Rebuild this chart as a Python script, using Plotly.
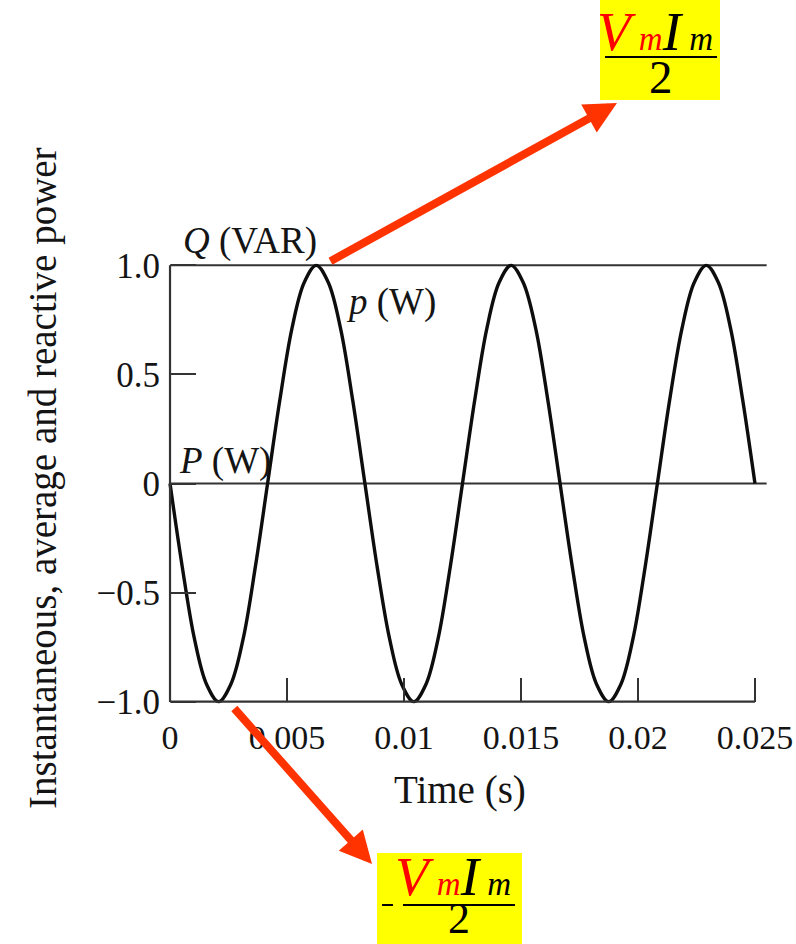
import plotly.graph_objects as go

# ---- data ----
time_s = [0, 0.00052, 0.00104, 0.00156, 0.00208, 0.0026, 0.00313, 0.00365,
          0.00417, 0.00469, 0.00521, 0.00573, 0.00625, 0.00677, 0.00729, 0.00781,
          0.00833, 0.00885, 0.00938, 0.0099, 0.01042, 0.01094, 0.01146, 0.01198,
          0.0125, 0.01302, 0.01354, 0.01406, 0.01458, 0.0151, 0.01563, 0.01615,
          0.01667, 0.01719, 0.01771, 0.01823, 0.01875, 0.01927, 0.01979, 0.02031,
          0.02083, 0.02135, 0.02188, 0.0224, 0.02292, 0.02344, 0.02396, 0.02448,
          0.025]
p_inst = [0, -0.38, -0.71, -0.92, -1.0, -0.92, -0.71, -0.38,
          0, 0.38, 0.71, 0.92, 1.0, 0.92, 0.71, 0.38,
          0, -0.38, -0.71, -0.92, -1.0, -0.92, -0.71, -0.38,
          0, 0.38, 0.71, 0.92, 1.0, 0.92, 0.71, 0.38,
          0, -0.38, -0.71, -0.92, -1.0, -0.92, -0.71, -0.38,
          0, 0.38, 0.71, 0.92, 1.0, 0.92, 0.71, 0.38,
          0]
line_t = [0, 0.0255]
Q_var = [1.0, 1.0]
P_avg = [0.0, 0.0]

x_ticks = [0, 0.005, 0.01, 0.015, 0.02, 0.025]
x_tick_labels = ["0", "0.005", "0.01", "0.015", "0.02", "0.025"]
y_ticks = [1.0, 0.5, 0, -0.5, -1.0]
y_tick_labels = ["1.0", "0.5", "0", "\u22120.5", "\u22121.0"]

# ---- figure geometry ----
W, H = 796, 944
ML, MR, MT, MB = 163, 27, 261, 238
XR = [-0.0003, 0.0256]
YR = [-1.02, 1.02]
PW, PH = W - ML - MR, H - MT - MB

def px(xp):
    return (xp - ML) / PW

def py(yp):
    return (H - MB - yp) / PH

SERIF = "Liberation Serif, Times New Roman, serif"
INK = "#141414"
LINE = "#333333"
RED = "#FF3300"

fig = go.Figure()
fig.add_trace(go.Scatter(x=line_t, y=Q_var, mode="lines",
                         line=dict(color=LINE, width=2), hoverinfo="skip"))
fig.add_trace(go.Scatter(x=line_t, y=P_avg, mode="lines",
                         line=dict(color=LINE, width=2), hoverinfo="skip"))
fig.add_trace(go.Scatter(x=time_s, y=p_inst, mode="lines",
                         line=dict(color="#0d0d0d", width=3.4, shape="spline", smoothing=1.0)))

# axis frame (left and bottom)
fig.add_shape(type="line", xref="x", yref="y", x0=0, x1=0, y0=-1, y1=1,
              line=dict(color=LINE, width=2.2))
fig.add_shape(type="line", xref="x", yref="y", x0=0, x1=0.025, y0=-1, y1=-1,
              line=dict(color=LINE, width=2.2))

x_pos = (-1 - YR[0]) / (YR[1] - YR[0])
y_pos = (0 - XR[0]) / (XR[1] - XR[0])

fig.update_layout(
    width=W, height=H,
    margin=dict(l=ML, r=MR, t=MT, b=MB, autoexpand=False),
    paper_bgcolor="white", plot_bgcolor="white",
    showlegend=False,
    xaxis=dict(range=XR, anchor="free", position=x_pos, showline=False, automargin=False,
               showgrid=False, zeroline=False, ticks="inside", ticklen=24,
               tickwidth=2, tickcolor=LINE, tickvals=x_ticks, ticktext=x_tick_labels,
               tickfont=dict(family=SERIF, size=34, color=INK), ticklabelstandoff=12),
    yaxis=dict(range=YR, anchor="free", position=y_pos, showline=False, automargin=False,
               showgrid=False, zeroline=False, ticks="inside", ticklen=25,
               tickwidth=2, tickcolor=LINE, tickvals=y_ticks, ticktext=y_tick_labels,
               tickfont=dict(family=SERIF, size=35, color=INK), ticklabelstandoff=10),
)

def txt(x, y, s, size=36, xanchor="left", yanchor="middle", color=INK, angle=0):
    fig.add_annotation(x=px(x), y=py(y), xref="paper", yref="paper", text=s,
                       showarrow=False, xanchor=xanchor, yanchor=yanchor,
                       textangle=angle, font=dict(family=SERIF, size=size, color=color))

txt(181, 241, "<i>Q</i> (VAR)", size=37)
txt(344, 302, "<i>p</i> (W)", size=37)
txt(177, 461, "<i>P</i> (W)", size=37)
txt(460, 790, "Time (s)", size=39, xanchor="center")
txt(43, 478, "Instantaneous, average and reactive power", size=39,
    xanchor="center", angle=-90)

# yellow formula boxes
fig.add_shape(type="rect", xref="paper", yref="paper", x0=px(600), x1=px(720),
              y0=py(100), y1=py(0), fillcolor="#FFFF00", line=dict(width=0), layer="above")
fig.add_shape(type="rect", xref="paper", yref="paper", x0=px(377), x1=px(522),
              y0=py(944), y1=py(853), fillcolor="#FFFF00", line=dict(width=0), layer="above")

num = ("<i><span style='color:#FF0000'>V</span>"
       "<span style='color:#FF0000;font-size:33px'> m</span>"
       "I<span style='font-size:33px'> m</span></i>")

def formula(cx, top, bar_x0, bar_x1, bar_y, two_y, two_size, minus=None):
    fig.add_annotation(x=px(cx), y=py(top), xref="paper", yref="paper", text=num,
                       showarrow=False, xanchor="center", yanchor="middle",
                       font=dict(family=SERIF, size=55, color="black"))
    fig.add_shape(type="line", xref="paper", yref="paper", x0=px(bar_x0), x1=px(bar_x1),
                  y0=py(bar_y), y1=py(bar_y), line=dict(color="black", width=2.2))
    fig.add_annotation(x=px((bar_x0 + bar_x1) / 2), y=py(two_y), xref="paper", yref="paper",
                       text="2", showarrow=False, xanchor="center", yanchor="middle",
                       font=dict(family=SERIF, size=two_size, color="black"))
    if minus is not None:
        fig.add_shape(type="line", xref="paper", yref="paper", x0=px(minus[0]), x1=px(minus[1]),
                      y0=py(bar_y), y1=py(bar_y), line=dict(color="black", width=2))

formula(655, 32, 605, 717, 57, 77, 47)
formula(453, 876, 403, 515, 905, 918, 44, minus=(382, 393))

# red arrows (head at box, tail at curve extreme)
def arrow(hx, hy, tx, ty):
    fig.add_annotation(x=px(hx), y=py(hy), xref="paper", yref="paper", text="",
                       showarrow=True, axref="pixel", ayref="pixel",
                       ax=tx - hx, ay=ty - hy, arrowhead=2, arrowsize=0.8,
                       arrowwidth=8, arrowcolor=RED, standoff=0, startstandoff=0)

arrow(617, 103, 329, 262)
arrow(372, 864, 233, 707)

fig.write_html("out.html", config={"displayModeBar": False},
               post_script="document.body.style.margin='0';document.body.style.padding='0';"
                           "document.body.style.overflow='hidden';")
